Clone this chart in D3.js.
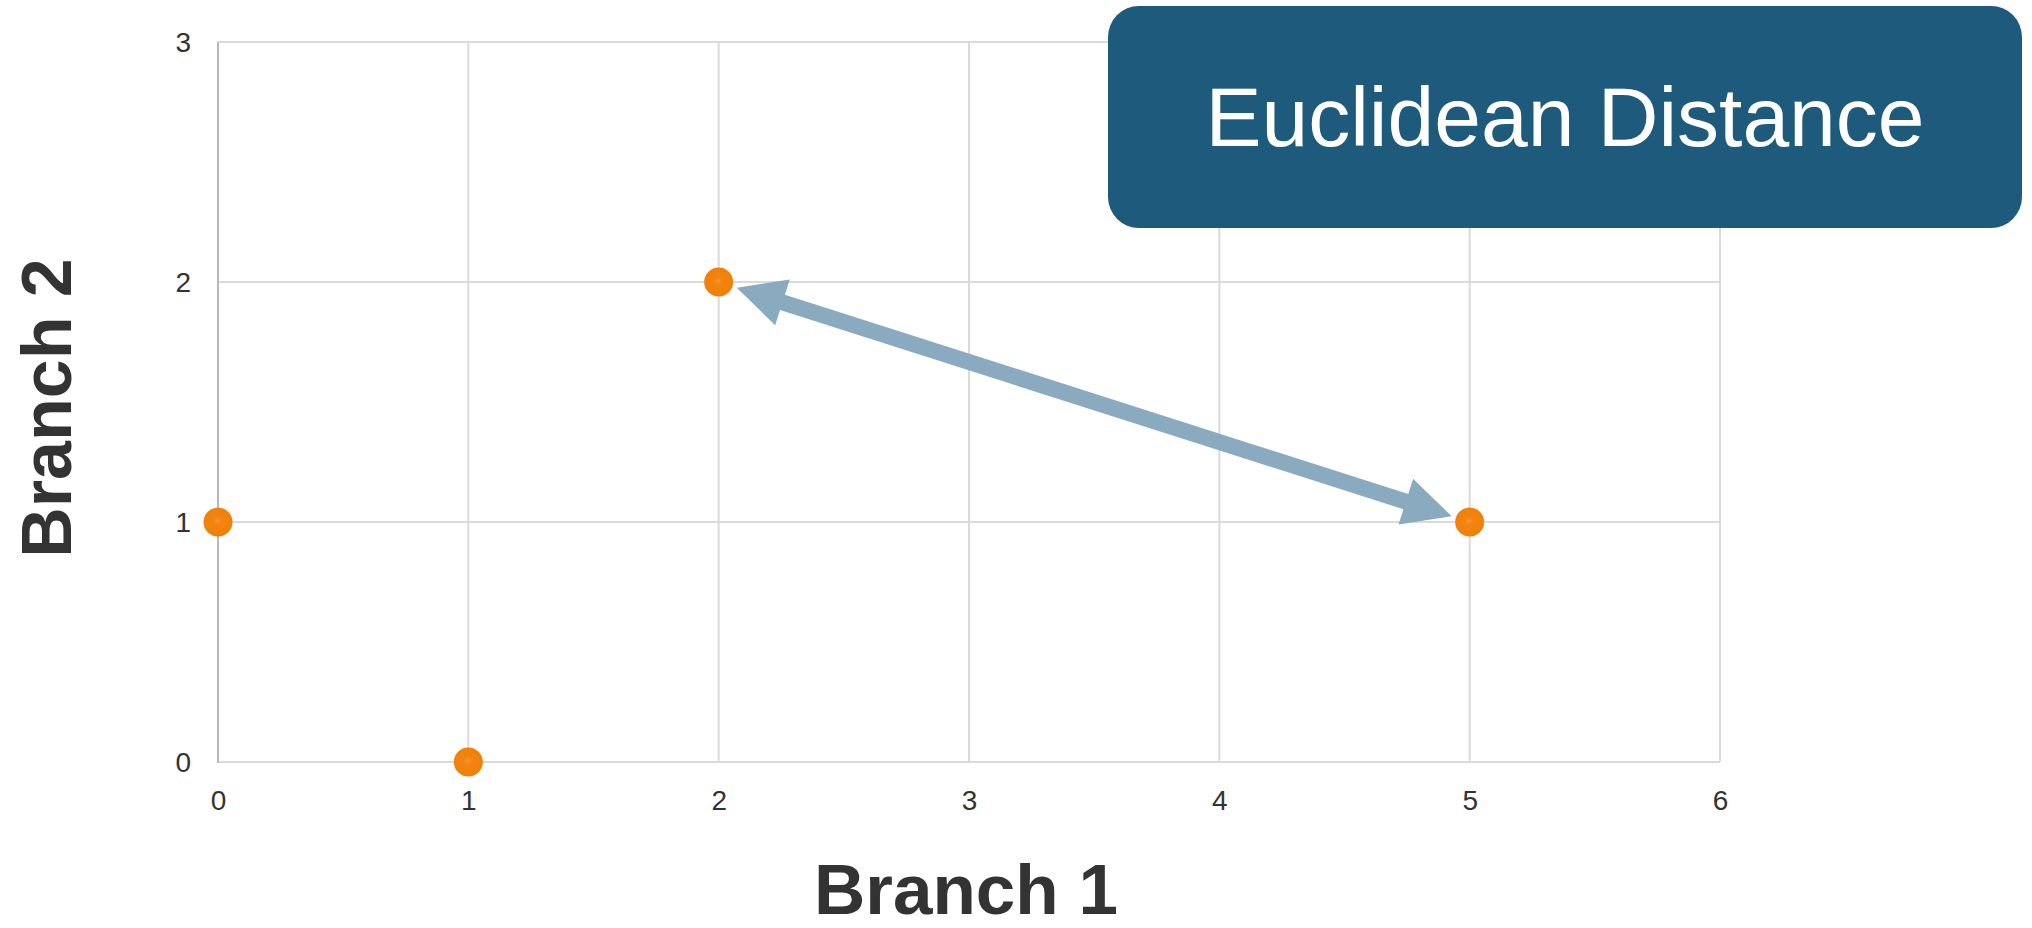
<!DOCTYPE html>
<html>
<head>
<meta charset="utf-8">
<script src="https://cdn.jsdelivr.net/npm/d3@7"></script>
<style>
  html, body { margin: 0; padding: 0; background: #ffffff; }
  svg { display: block; }
</style>
</head>
<body>
<svg id="chart" width="2032" height="928"></svg>
<script>
// Observations on the two branch dimensions
const branch1 = [0, 1, 2, 5];
const branch2 = [1, 0, 2, 1];

// Tick values for each axis
const xTicks = [0, 1, 2, 3, 4, 5, 6];
const yTicks = [0, 1, 2, 3];

// The distance being highlighted: from point (2,2) to point (5,1)
const arrowFrom = [2, 2];
const arrowTo = [5, 1];

const titleText = "Euclidean Distance";
const xTitle = "Branch 1";
const yTitle = "Branch 2";

const svg = d3.select("#chart");
const W = 2032, H = 928;
const plot = { left: 218, right: 1720, top: 42, bottom: 762 };

const x = d3.scaleLinear().domain([0, 6]).range([plot.left, plot.right]);
const y = d3.scaleLinear().domain([0, 3]).range([plot.bottom, plot.top]);

const gridColor = "#dadada";
const textColor = "#333333";
const font = "'Liberation Sans', Arial, Helvetica, sans-serif";

svg.append("rect").attr("width", W).attr("height", H).attr("fill", "#ffffff");

// Gridlines
const grid = svg.append("g");
grid.selectAll("line.v").data(xTicks).join("line")
  .attr("x1", d => x(d)).attr("x2", d => x(d))
  .attr("y1", plot.top).attr("y2", plot.bottom)
  .attr("stroke", gridColor).attr("stroke-width", 2);
grid.selectAll("line.h").data(yTicks).join("line")
  .attr("x1", plot.left).attr("x2", plot.right)
  .attr("y1", d => y(d)).attr("y2", d => y(d))
  .attr("stroke", gridColor).attr("stroke-width", 2);

// Y axis line (slightly darker)
svg.append("line")
  .attr("x1", x(0)).attr("x2", x(0))
  .attr("y1", plot.top).attr("y2", plot.bottom + 1)
  .attr("stroke", "#b8b8b8").attr("stroke-width", 2);

// Axes (tick labels only, drawn by d3.axis)
const xAxis = svg.append("g")
  .attr("transform", `translate(0,${plot.bottom})`)
  .call(d3.axisBottom(x).tickValues(xTicks).tickSize(0).tickPadding(48).tickFormat(d3.format("d")));
xAxis.select(".domain").remove();
xAxis.selectAll("text")
  .attr("font-family", font).attr("font-size", 28).attr("fill", textColor)
  .attr("dy", null).attr("y", 48);

const yAxis = svg.append("g")
  .attr("transform", `translate(${plot.left},0)`)
  .call(d3.axisLeft(y).tickValues(yTicks).tickSize(0).tickPadding(27).tickFormat(d3.format("d")));
yAxis.select(".domain").remove();
yAxis.selectAll("text")
  .attr("font-family", font).attr("font-size", 28).attr("fill", textColor)
  .attr("dy", "0.35em");

// Axis titles
svg.append("text")
  .attr("x", 966).attr("y", 914)
  .attr("text-anchor", "middle")
  .attr("font-family", font).attr("font-size", 71).attr("font-weight", "bold")
  .attr("fill", textColor)
  .text(xTitle);

svg.append("text")
  .attr("transform", `translate(71,408) rotate(-90)`)
  .attr("text-anchor", "middle")
  .attr("font-family", font).attr("font-size", 70).attr("font-weight", "bold")
  .attr("fill", textColor)
  .text(yTitle);

// Double-headed arrow between the two highlighted points
const p0 = [x(arrowFrom[0]), y(arrowFrom[1])];
const p1 = [x(arrowTo[0]), y(arrowTo[1])];
const dx = p1[0] - p0[0], dy = p1[1] - p0[1];
const len = Math.hypot(dx, dy);
const ux = dx / len, uy = dy / len;   // unit along
const nx = -uy, ny = ux;              // unit normal
const gap = 19, headLen = 48, headHalf = 24, shaftHalf = 8;
const tipA = [p0[0] + ux * gap, p0[1] + uy * gap];
const tipB = [p1[0] - ux * gap, p1[1] - uy * gap];
const baseA = [tipA[0] + ux * headLen, tipA[1] + uy * headLen];
const baseB = [tipB[0] - ux * headLen, tipB[1] - uy * headLen];
const pt = (p, s) => [p[0] + nx * s, p[1] + ny * s];
const arrowPts = [
  tipA,
  pt(baseA, -headHalf), pt(baseA, -shaftHalf),
  pt(baseB, -shaftHalf), pt(baseB, -headHalf),
  tipB,
  pt(baseB, headHalf), pt(baseB, shaftHalf),
  pt(baseA, shaftHalf), pt(baseA, headHalf)
];
svg.append("path")
  .attr("d", d3.line()(arrowPts) + "Z")
  .attr("fill", "#8aabbf");

// Points
const defs = svg.append("defs");
const grad = defs.append("radialGradient").attr("id", "dotFill")
  .attr("cx", "48%").attr("cy", "46%").attr("r", "55%");
grad.append("stop").attr("offset", "0%").attr("stop-color", "#f7923a");
grad.append("stop").attr("offset", "25%").attr("stop-color", "#f2850f");
grad.append("stop").attr("offset", "100%").attr("stop-color", "#ef7f08");

svg.append("g").selectAll("circle")
  .data(branch1.map((v, i) => ({ b1: v, b2: branch2[i] })))
  .join("circle")
  .attr("cx", d => x(d.b1)).attr("cy", d => y(d.b2))
  .attr("r", 14.5)
  .attr("fill", "url(#dotFill)");

// Title box
const box = { x: 1108, y: 6, w: 914, h: 222 };
svg.append("rect")
  .attr("x", box.x).attr("y", box.y)
  .attr("width", box.w).attr("height", box.h)
  .attr("rx", 31).attr("ry", 31)
  .attr("fill", "#1e5a7c");
svg.append("text")
  .attr("x", box.x + box.w / 2).attr("y", 146)
  .attr("text-anchor", "middle")
  .attr("font-family", font).attr("font-size", 84)
  .attr("fill", "#ffffff")
  .text(titleText);
</script>
</body>
</html>
